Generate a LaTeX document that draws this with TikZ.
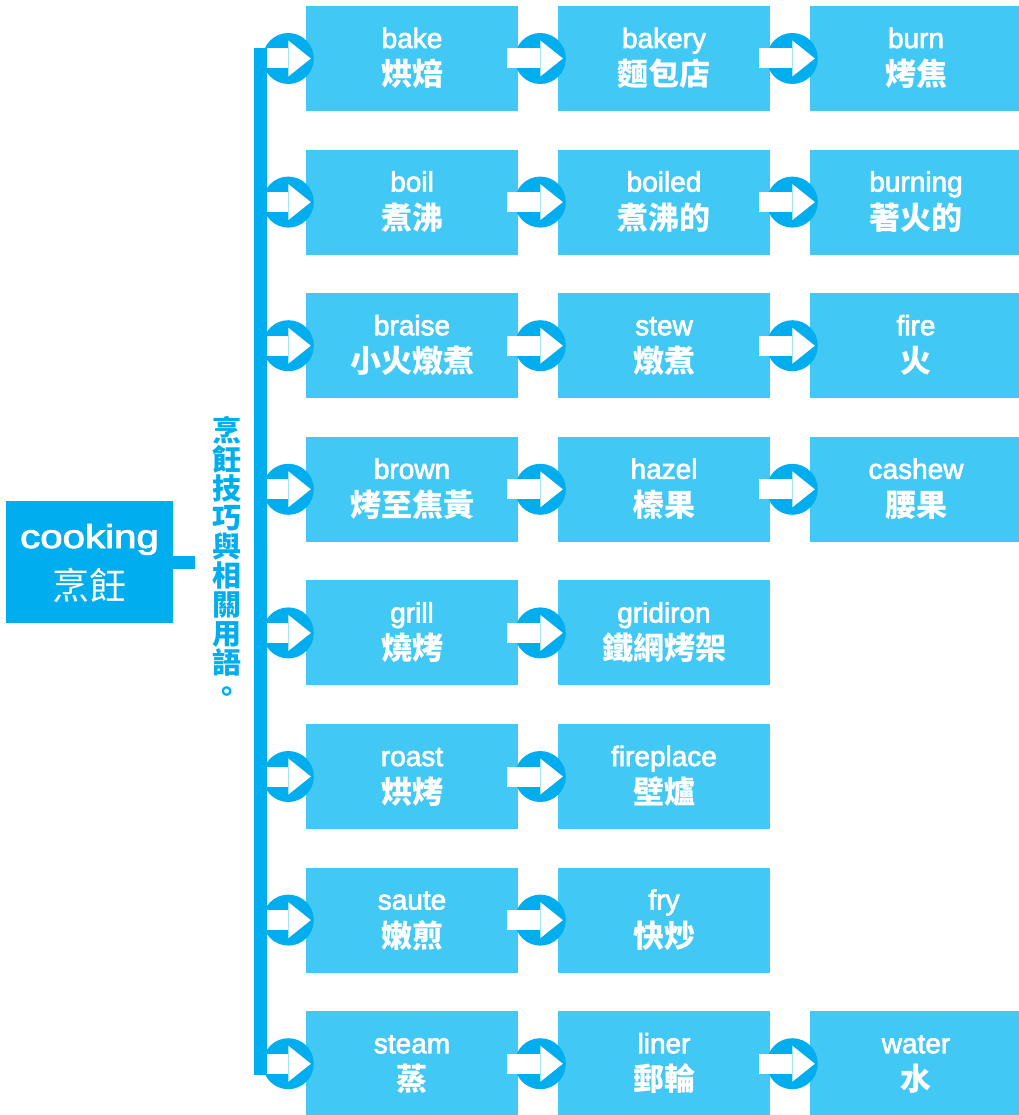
\documentclass[tikz,border=0pt]{standalone}
\usepackage{fontspec}
\usepackage{graphicx}
\usetikzlibrary{calc}
\newfontfamily\latf{Liberation Sans}[FakeBold=2.5]
\newfontfamily\cjk{Noto Sans CJK TC}
\definecolor{dk}{HTML}{00AEEF}
\definecolor{lt}{HTML}{41C8F5}
\tikzset{
  box/.style={fill=lt, minimum width=212pt, minimum height=105pt, inner sep=0pt},
  entext/.style={text=white, anchor=base, inner sep=0pt, font=\latf\fontsize{28}{30}\selectfont},
  zhtext/.style={text=white, anchor=base, inner sep=0pt, font=\cjk\bfseries\fontsize{31}{33}\selectfont},
  barpt/.style={inner sep=0pt, minimum size=0pt},
}
\newcommand\bx[5]{%
  \node[box] (#1) at (#2,#3) {};
  \node[entext] (#1-en) at ($(#1.center)+(0,-10.5)$) {#4};
  \node[zhtext] (#1-zh) at ($(#1.center)+(0,27)$) {#5};
}
\newcommand\conn[3][-11]{%
  \fill[dk] ($(#3.west)+(-17.5,0)$) circle[radius=25.5pt];
  \fill[white] ($(#2.east)+(#1,-10)$) rectangle ($(#3.west)+(-17.5,10)$);
  \fill[white] ($(#3.west)+(-17.5,-18)$) -- ($(#3.west)+(5,0)$) -- ($(#3.west)+(-17.5,18)$) -- cycle;
}
\begin{document}
\begin{tikzpicture}[x=1pt,y=-1pt]
\useasboundingbox (0,0) rectangle (1018,1115);
% root
\node[fill=dk, minimum width=167pt, minimum height=122pt, inner sep=0pt] (root) at (89.5,562) {};
\node[text=white, anchor=base, inner sep=0pt, font=\latf\fontsize{33}{35}\selectfont] (root-en) at ($(root.center)+(0,-14)$) {\scalebox{1.22}[1]{cooking}};
\node[text=white, anchor=base, inner sep=0pt, font=\cjk\fontsize{37}{39}\selectfont] (root-zh) at ($(root.center)+(0,37.5)$) {烹飪};
\draw[dk, line width=13pt] (root.east) -- ++(22,0);
% side label
\node[text=dk, font=\cjk\bfseries\fontsize{29}{29}\selectfont, align=center, anchor=north, inner sep=0pt] (side) at (226.5,416) {烹\\飪\\技\\巧\\與\\相\\關\\用\\語\\。};
% bar
\coordinate (bartop) at (260.5,48);
\coordinate (barbot) at (260.5,1075);
\draw[dk, line width=13pt] (bartop) -- (barbot);
% boxes
\bx{a1}{412}{58.5}{bake}{烘焙}
\bx{a2}{664}{58.5}{bakery}{麵包店}
\bx{a3}{916}{58.5}{burn}{烤焦}
\bx{b1}{412}{202.1}{boil}{煮沸}
\bx{b2}{664}{202.1}{boiled}{煮沸的}
\bx{b3}{916}{202.1}{burning}{著火的}
\bx{c1}{412}{345.7}{braise}{小火燉煮}
\bx{c2}{664}{345.7}{stew}{燉煮}
\bx{c3}{916}{345.7}{fire}{火}
\bx{d1}{412}{489.3}{brown}{烤至焦黃}
\bx{d2}{664}{489.3}{hazel}{榛果}
\bx{d3}{916}{489.3}{cashew}{腰果}
\bx{e1}{412}{632.9}{grill}{燒烤}
\bx{e2}{664}{632.9}{gridiron}{鐵網烤架}
\bx{f1}{412}{776.5}{roast}{烘烤}
\bx{f2}{664}{776.5}{fireplace}{壁爐}
\bx{g1}{412}{920.1}{saute}{嫩煎}
\bx{g2}{664}{920.1}{fry}{快炒}
\bx{h1}{412}{1063.7}{steam}{蒸}
\bx{h2}{664}{1063.7}{liner}{郵輪}
\bx{h3}{916}{1063.7}{water}{水}
% bar points
\node[barpt] (pa) at (267,58.5) {};
\node[barpt] (pb) at (267,202.1) {};
\node[barpt] (pc) at (267,345.7) {};
\node[barpt] (pd) at (267,489.3) {};
\node[barpt] (pe) at (267,632.9) {};
\node[barpt] (pf) at (267,776.5) {};
\node[barpt] (pg) at (267,920.1) {};
\node[barpt] (ph) at (267,1063.7) {};
% connectors
\conn[0]{pa}{a1}\conn{a1}{a2}\conn{a2}{a3}
\conn[0]{pb}{b1}\conn{b1}{b2}\conn{b2}{b3}
\conn[0]{pc}{c1}\conn{c1}{c2}\conn{c2}{c3}
\conn[0]{pd}{d1}\conn{d1}{d2}\conn{d2}{d3}
\conn[0]{pe}{e1}\conn{e1}{e2}
\conn[0]{pf}{f1}\conn{f1}{f2}
\conn[0]{pg}{g1}\conn{g1}{g2}
\conn[0]{ph}{h1}\conn{h1}{h2}\conn{h2}{h3}
\end{tikzpicture}
\end{document}
